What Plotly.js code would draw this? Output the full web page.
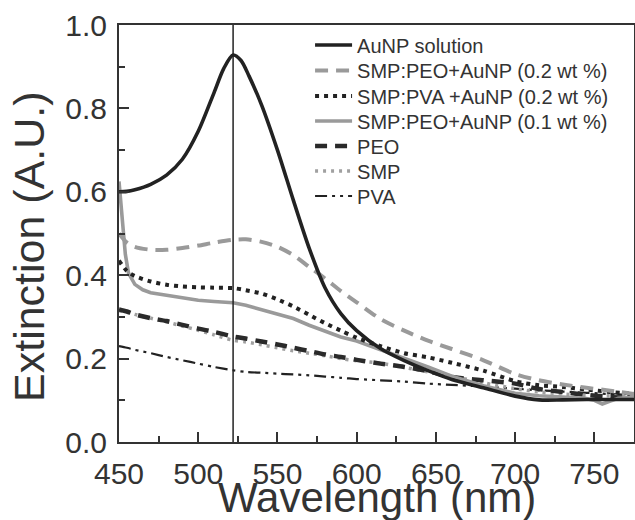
<!DOCTYPE html>
<html><head><meta charset="utf-8">
<script src="https://cdn.plot.ly/plotly-3.0.1.min.js"></script>
<style>html,body{margin:0;padding:0;background:#fff}#chart{width:635px;height:520px}</style>
</head><body><div id="chart"></div><script>
// ---- data ----
const seriesNames = ["AuNP solution", "SMP:PEO+AuNP (0.2 wt %)", "SMP:PVA +AuNP (0.2 wt %)", "SMP:PEO+AuNP (0.1 wt %)", "PEO", "SMP", "PVA"];

const wlAuNP  = [450,455,460,470,480,490,500,510,516,522,527,532,540,550,560,570,580,590,600,615,630,645,660,680,700,715,730,745,760,775];
const extAuNP = [0.600,0.601,0.605,0.618,0.640,0.678,0.745,0.838,0.895,0.928,0.915,0.878,0.808,0.700,0.580,0.465,0.370,0.308,0.267,0.224,0.195,0.171,0.150,0.130,0.110,0.101,0.101,0.102,0.102,0.102];

const wlCommon = [450,455,460,470,480,490,500,510,522,530,540,550,560,570,580,590,600,615,630,645,660,680,700,715,730,745,760,775];
const extPeo02 = [0.500,0.478,0.468,0.461,0.461,0.465,0.471,0.478,0.485,0.486,0.480,0.468,0.448,0.420,0.392,0.362,0.335,0.295,0.267,0.243,0.223,0.196,0.163,0.148,0.138,0.130,0.123,0.115];
const extPva02 = [0.435,0.410,0.398,0.385,0.377,0.373,0.371,0.370,0.369,0.364,0.356,0.342,0.325,0.305,0.285,0.267,0.250,0.230,0.213,0.203,0.190,0.171,0.146,0.136,0.132,0.126,0.120,0.116];
const extPeoOnly = [0.318,0.313,0.306,0.297,0.290,0.281,0.272,0.264,0.253,0.248,0.241,0.234,0.226,0.218,0.210,0.204,0.197,0.188,0.180,0.170,0.156,0.148,0.140,0.127,0.120,0.113,0.108,0.105];
const extSmpOnly = [0.315,0.312,0.306,0.297,0.288,0.278,0.268,0.257,0.244,0.240,0.233,0.226,0.219,0.213,0.207,0.200,0.195,0.189,0.179,0.168,0.158,0.142,0.128,0.120,0.115,0.112,0.111,0.110];
const extPvaOnly = [0.230,0.226,0.221,0.213,0.204,0.196,0.188,0.180,0.172,0.168,0.166,0.164,0.162,0.160,0.157,0.154,0.151,0.148,0.145,0.140,0.137,0.133,0.128,0.124,0.121,0.118,0.115,0.112];

const wlPeo01  = [450,452,454,456,460,465,470,480,490,500,510,522,530,540,550,560,570,580,590,600,615,630,645,660,680,700,715,730,745,750,755,760,765,775];
const extPeo01 = [0.625,0.540,0.450,0.405,0.378,0.365,0.358,0.352,0.345,0.340,0.337,0.334,0.328,0.318,0.308,0.296,0.280,0.265,0.252,0.242,0.222,0.202,0.180,0.158,0.135,0.117,0.111,0.108,0.104,0.100,0.091,0.098,0.105,0.107];

const peakWavelength = 522;
const xTickVals = [450,500,550,600,650,700,750];
const xTitle = 'Wavelength (nm)';
const yTitle = 'Extinction (A.U.)';

// ---- styling ----
const ink = '#333333';
const styles = [
  {color:'#222222', width:3.6, dash:'solid'},
  {color:'#9a9a9a', width:4, dash:'13px,8px'},
  {color:'#222222', width:4, dash:'4px,5px'},
  {color:'#9a9a9a', width:3.6, dash:'solid'},
  {color:'#2a2a2a', width:4.5, dash:'12px,8px'},
  {color:'#a0a0a0', width:3.5, dash:'3px,5px'},
  {color:'#222222', width:2.2, dash:'12px,5px,3px,5px,3px,5px'}
];
const xs = [wlAuNP, wlCommon, wlCommon, wlPeo01, wlCommon, wlCommon, wlCommon];
const ys = [extAuNP, extPeo02, extPva02, extPeo01, extPeoOnly, extSmpOnly, extPvaOnly];
const drawOrder = [6,5,4,3,2,1,0];

const legendCentersPx = [45, 70.5, 96, 121, 146, 171, 196];
const plotTop = 25, plotBottom = 442, plotLeft = 119, plotRight = 634;

const traces = [];
drawOrder.forEach(i => {
  traces.push({
    x: xs[i], y: ys[i], name: seriesNames[i], mode: 'lines', type: 'scatter',
    line: {shape: i === 3 ? 'linear' : 'spline', smoothing: 0.8, color: styles[i].color, width: styles[i].width, dash: styles[i].dash},
    legend: i === 0 ? 'legend' : 'legend' + (i + 1),
    hoverinfo: 'skip'
  });
});

const layout = {
  width: 635, height: 520,
  margin: {l: 119, r: 1, t: 25, b: 78},
  paper_bgcolor: '#fff', plot_bgcolor: '#fff',
  font: {family: 'Liberation Sans, Arial, sans-serif', color: ink},
  showlegend: true,
  xaxis: {
    range: [450, 775], tickvals: xTickVals, ticks: 'inside', ticklen: 10, tickwidth: 2, tickcolor: ink,
    showline: true, linewidth: 2, linecolor: ink, mirror: true, showgrid: false, zeroline: false,
    minor: {dtick: 25, tick0: 450, ticks: 'inside', ticklen: 6, tickwidth: 2, tickcolor: ink, showgrid: false},
    tickfont: {size: 30, color: ink}, ticklabelstandoff: 4
  },
  yaxis: {
    range: [0, 1.0], dtick: 0.2, tick0: 0, tickformat: '.1f', ticks: 'inside', ticklen: 10, tickwidth: 2, tickcolor: ink,
    showline: true, linewidth: 2, linecolor: ink, mirror: true, showgrid: false, zeroline: false,
    minor: {dtick: 0.1, ticks: 'inside', ticklen: 6, tickwidth: 2, tickcolor: ink, showgrid: false},
    tickfont: {size: 30, color: ink}, ticklabelstandoff: 4
  },
  annotations: [{
    text: yTitle, textangle: -90, showarrow: false,
    xref: 'paper', yref: 'paper',
    x: (29 - plotLeft) / (plotRight - plotLeft), y: (plotBottom - 247) / (plotBottom - plotTop),
    xanchor: 'center', yanchor: 'middle',
    font: {size: 43, color: ink}
  }, {
    text: xTitle, showarrow: false,
    xref: 'paper', yref: 'paper',
    x: 0.5, y: (plotBottom - 497) / (plotBottom - plotTop),
    xanchor: 'center', yanchor: 'middle',
    font: {size: 42, color: ink}
  }],
  shapes: [{type: 'line', xref: 'x', yref: 'paper', x0: peakWavelength, x1: peakWavelength, y0: 0, y1: 1, line: {color: '#222', width: 1.5}}]
};

legendCentersPx.forEach((py, i) => {
  const key = i === 0 ? 'legend' : 'legend' + (i + 1);
  layout[key] = {
    x: 0.371, xanchor: 'left', y: (plotBottom - py) / (plotBottom - plotTop), yanchor: 'middle',
    bgcolor: 'rgba(0,0,0,0)', borderwidth: 0, font: {size: 20, color: ink}, itemwidth: 37,
    itemclick: false, itemdoubleclick: false
  };
});

Plotly.newPlot('chart', traces, layout, {staticPlot: true, displayModeBar: false});
</script></body></html>
